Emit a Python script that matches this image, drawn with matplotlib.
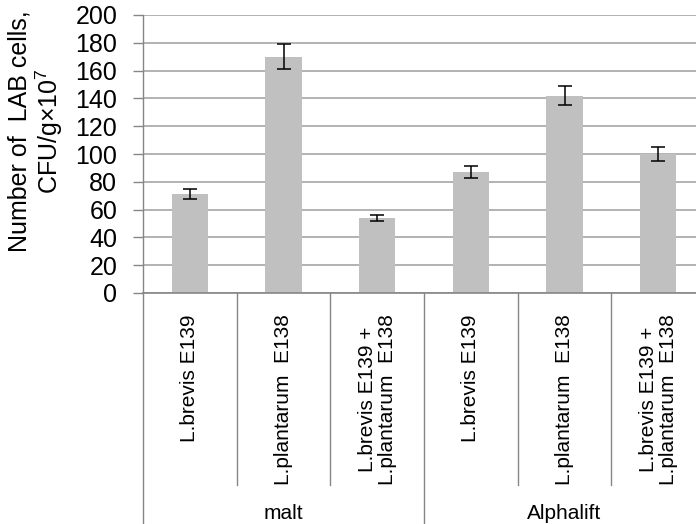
import matplotlib
matplotlib.use('Agg')
import matplotlib.pyplot as plt
import matplotlib.transforms as mtransforms

plt.rcParams['font.family'] = ['Liberation Sans', 'DejaVu Sans']
plt.rcParams['mathtext.default'] = 'regular'

# data
groups = ['malt', 'Alphalift']
strains = ['L.brevis E139', 'L.plantarum  E138', 'L.brevis E139 +\nL.plantarum  E138']
values = [71, 170, 54, 87, 142, 100]
errors = [3.7, 9, 2.4, 4.3, 7, 5]
yticks = list(range(0, 201, 20))

bar_color = '#c0c0c0'
axis_color = '#868686'
grid_color = '#a6a6a6'

fig = plt.figure(figsize=(6.96, 5.24), dpi=100)
# plot area runs slightly past the right edge, as in the reference
ax = fig.add_axes([143 / 696, 1 - 293 / 524, 562 / 696, 278 / 524])

n = len(values)
xs = [i + 0.5 for i in range(n)]
ax.bar(xs, values, width=0.39, color=bar_color, zorder=2)
ax.errorbar(xs, values, yerr=errors, fmt='none', ecolor='black',
            elinewidth=1.1, capsize=5, capthick=1.1, zorder=3)

ax.set_xlim(0, n)
ax.set_ylim(0, 200)
ax.set_yticks(yticks)
ax.set_xticks([])
ax.yaxis.grid(True, color=grid_color, linewidth=1.2, zorder=0)
ax.set_axisbelow(True)
ax.tick_params(axis='y', length=7, width=1, color=axis_color, pad=11.5,
               labelsize=18)

for s in ['top', 'right']:
    ax.spines[s].set_visible(False)
ax.spines['left'].set_color(axis_color)
ax.spines['bottom'].set_color(axis_color)
ax.spines['left'].set_linewidth(1.0)
ax.spines['bottom'].set_linewidth(1.2)

trans = mtransforms.blended_transform_factory(ax.transData, ax.transAxes)

# category separators and labels
for i in range(n + 1):
    if i % len(strains) == 0:
        y_end = -0.84
    else:
        y_end = -(485 - 293) / 278
    ax.plot([i, i], [0, y_end], transform=trans, color=axis_color,
            linewidth=1.0, clip_on=False)

for i in range(n):
    ax.text(xs[i], -(314 - 293) / 278, strains[i % len(strains)],
            transform=trans, rotation=90, ha='center', va='top',
            multialignment='center', fontsize=15, linespacing=1.05)

for g, name in enumerate(groups):
    cx = g * len(strains) + len(strains) / 2
    ax.text(cx, -(519 - 293) / 278, name, transform=trans,
            ha='center', va='baseline', fontsize=15)

fig.text(36 / 696, 1 - 131 / 524, 'Number of  LAB cells,\nCFU/g\u00d710$^7$',
         rotation=90, ha='center', va='center', multialignment='center',
         fontsize=18, linespacing=1.1)

fig.savefig('out.png', dpi=100)
